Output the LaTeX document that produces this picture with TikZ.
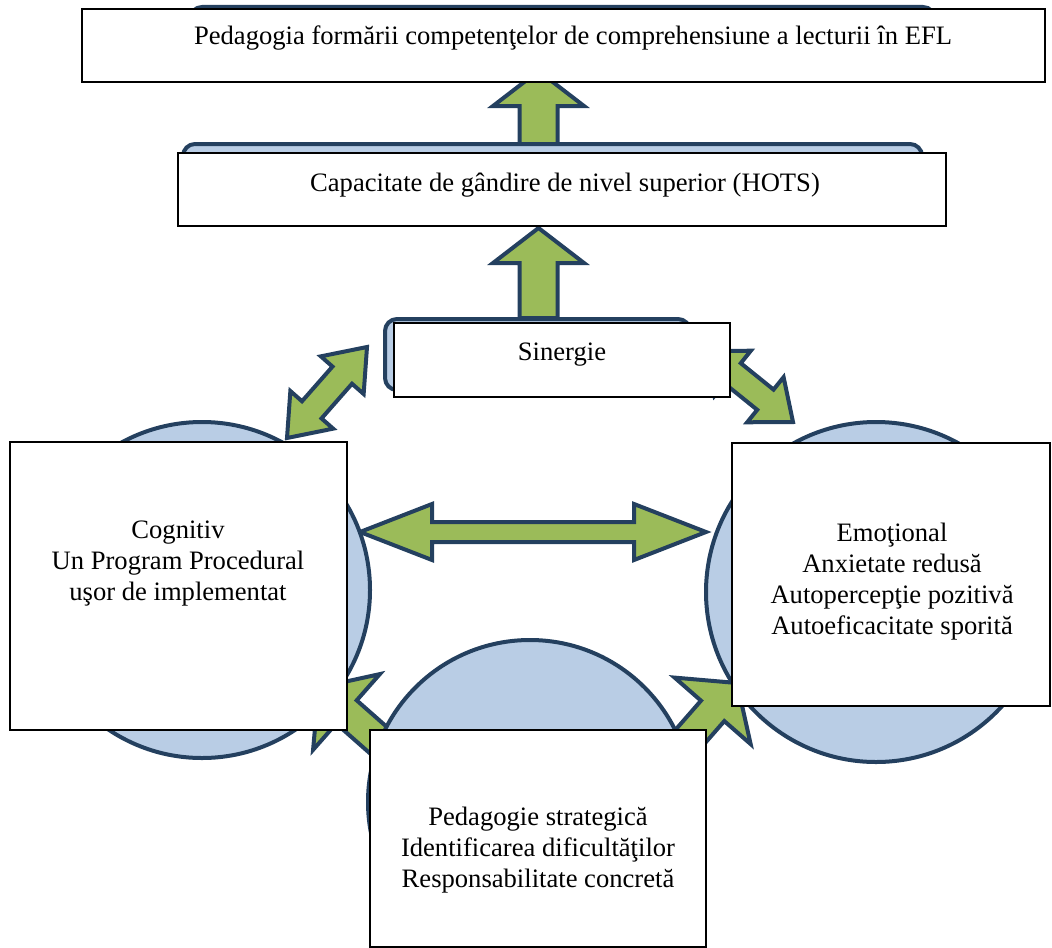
\documentclass[tikz,border=0pt]{standalone}
\usepackage{fontspec}
\setmainfont{Liberation Serif}
\usetikzlibrary{calc}

\definecolor{boxblue}{HTML}{B9CDE5}
\definecolor{edgeblue}{HTML}{24405F}
\definecolor{arrowgreen}{HTML}{9BBB59}

% block arrow with a head at each end: ends, head length, head half width, shaft half width
\newcommand{\dblblock}[5]{%
  \draw[blockarrow] (#1)
    -- ($(#1)!#3!(#2)!#4!90:(#2)$)
    -- ($(#1)!#3!(#2)!#5!90:(#2)$)
    -- ($(#2)!#3!(#1)!#5!-90:(#1)$)
    -- ($(#2)!#3!(#1)!#4!-90:(#1)$)
    -- (#2)
    -- ($(#2)!#3!(#1)!#4!90:(#1)$)
    -- ($(#2)!#3!(#1)!#5!90:(#1)$)
    -- ($(#1)!#3!(#2)!#5!-90:(#2)$)
    -- ($(#1)!#3!(#2)!#4!-90:(#2)$)
    -- cycle;}
% block arrow with one head: tip, tail, head length, head half width, shaft half width
\newcommand{\oneblock}[5]{%
  \draw[blockarrow] (#1)
    -- ($(#1)!#3!(#2)!#4!90:(#2)$)
    -- ($(#1)!#3!(#2)!#5!90:(#2)$)
    -- ($(#2)!#5!-90:(#1)$)
    -- ($(#2)!#5!90:(#1)$)
    -- ($(#1)!#3!(#2)!#5!-90:(#2)$)
    -- ($(#1)!#3!(#2)!#4!-90:(#2)$)
    -- cycle;}

\begin{document}
\begin{tikzpicture}
    [
        x=0.5pt, y=-0.5pt,
        textbox/.style={draw, line width=1pt, fill=white, inner sep=0pt},
        backplate/.style={draw=edgeblue, line width=2pt, fill=boxblue,
                          rounded corners=6pt, inner sep=0pt},
        bubble/.style={circle, draw=edgeblue, line width=2pt, fill=boxblue,
                       inner sep=0pt},
        blockarrow/.style={draw=edgeblue, fill=arrowgreen, line width=2pt,
                           line join=miter},
        caption/.style={align=center, inner sep=0pt, anchor=base,
                        font=\fontsize{13.3}{15.5}\selectfont}
    ]
    \useasboundingbox (0,0) rectangle (1052,947);

    % arrow ends
    \coordinate (goaltip) at (538.5,71);
    \coordinate (goaltail) at (538.5,150);
    \coordinate (hotstip) at (538.5,228);
    \coordinate (hotstail) at (538.5,318);
    \coordinate (cogtop) at (287,438);
    \coordinate (syntopleft) at (367,347);
    \coordinate (syntopright) at (705,351);
    \coordinate (emotop) at (793,422);
    \coordinate (cogside) at (360,532);
    \coordinate (emoside) at (706,532);
    \coordinate (coglow) at (318.7,687.5);
    \coordinate (pedleft) at (450.3,803.5);
    \coordinate (emolow) at (737,683);
    \coordinate (pedright) at (621.7,814.8);

    \oneblock{goaltip}{goaltail}{17.5pt}{22.75pt}{9.5pt}
    \oneblock{hotstip}{hotstail}{17.5pt}{22.75pt}{9.5pt}
    \dblblock{cogtop}{syntopleft}{18.75pt}{14.25pt}{6.5pt}
    \dblblock{syntopright}{emotop}{17.75pt}{14.5pt}{6.5pt}
    \dblblock{cogside}{emoside}{36pt}{14pt}{5pt}
    \dblblock{pedleft}{coglow}{18.5pt}{25.25pt}{7.75pt}
    \dblblock{pedright}{emolow}{18.5pt}{25.25pt}{7.75pt}

    % blue shapes behind the boxes
    \node (goalplate) [backplate, minimum width=372.5pt, minimum height=36pt]
        at (562.5,43) {};
    \node (hotsplate) [backplate, minimum width=369.5pt, minimum height=37pt]
        at (552.5,181) {};
    \node (synplate) [backplate, minimum width=152.5pt, minimum height=35.5pt]
        at (537.5,354.5) {};
    \node (cogbubble) [bubble, minimum size=168pt] at (202,590) {};
    \node (emobubble) [bubble, minimum size=170pt] at (876,592) {};
    \node (pedbubble) [bubble, minimum size=162pt] at (530,802) {};

    % white boxes
    \node (goal) [textbox, minimum width=481.5pt, minimum height=36.5pt]
        at (563.5,45.5) {};
    \node (hots) [textbox, minimum width=384pt, minimum height=36.5pt]
        at (562,189.5) {};
    \node (syn) [textbox, minimum width=168pt, minimum height=37pt]
        at (562,360) {};
    \node (cog) [textbox, minimum width=168.5pt, minimum height=144pt]
        at (178.5,586) {};
    \node (emo) [textbox, minimum width=159pt, minimum height=131.5pt]
        at (891,574.5) {};
    \node (ped) [textbox, minimum width=168pt, minimum height=108.5pt]
        at (538,838.5) {};

    % texts
    \node (goaltxt) [caption] at (573,45)
        {Pedagogia formării competenţelor de comprehensiune a lecturii în EFL};
    \node (hotstxt) [caption] at (565,191)
        {Capacitate de gândire de nivel superior (HOTS)};
    \node (syntxt) [caption] at (562,360) {Sinergie};
    \node (cogtxt) [caption] at (178,600)
        {Cognitiv\\Un Program Procedural\\uşor de implementat};
    \node (emotxt) [caption] at (892,634)
        {Emoţional\\Anxietate redusă\\Autopercepţie pozitivă\\Autoeficacitate sporită};
    \node (pedtxt) [caption] at (538,887)
        {Pedagogie strategică\\Identificarea dificultăţilor\\Responsabilitate concretă};
\end{tikzpicture}
\end{document}
